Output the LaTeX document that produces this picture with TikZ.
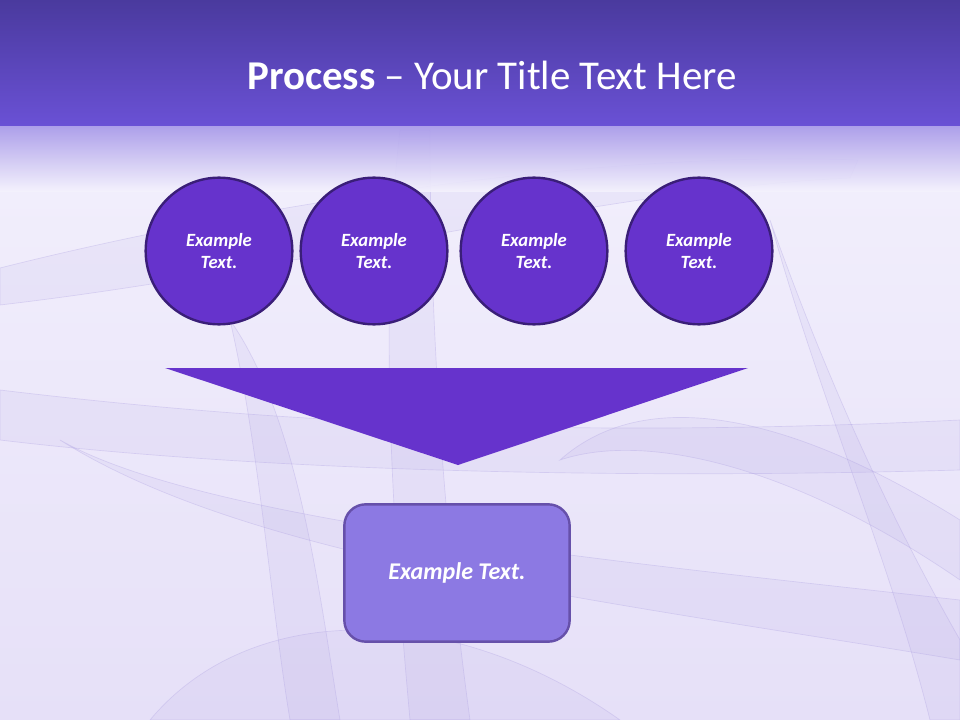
\documentclass[tikz,border=0pt]{standalone}
\usepackage{fontspec}
\setmainfont{Carlito}
\usetikzlibrary{positioning}
\definecolor{bandTop}{HTML}{4A3A9E}
\definecolor{bandBottom}{HTML}{6A51D5}
\definecolor{fadeTop}{HTML}{A596E8}
\definecolor{paleBack}{HTML}{F5F3FD}
\definecolor{lavender}{HTML}{E6E0F8}
\definecolor{ribbon}{HTML}{A89AE0}
\definecolor{stepFill}{HTML}{6633CC}
\definecolor{stepBorder}{HTML}{3A1E78}
\definecolor{resultFill}{HTML}{8C79E3}
\definecolor{resultBorder}{HTML}{6650AA}
\tikzstyle{stepCircle} = [circle, minimum size=110pt, inner sep=0pt, draw=stepBorder, line width=1.8pt, fill=stepFill, text=white, font=\fontsize{14}{17}\selectfont\bfseries\itshape, align=center]
\tikzstyle{result} = [rectangle, rounded corners=16pt, minimum width=169pt, minimum height=103pt, draw=resultBorder, line width=1.8pt, fill=resultFill, text=white, font=\fontsize{18}{22}\selectfont\bfseries\itshape]
\tikzstyle{ribbonBand} = [draw=ribbon, line width=0.5pt, draw opacity=0.3, fill=ribbon, fill opacity=0.1]

\begin{document}
\begin{tikzpicture}[x=0.75pt, y=-0.75pt]
	\useasboundingbox (0,0) rectangle (960,720);
	
	% background
	\shade [top color=paleBack, bottom color=lavender] (0,0) rectangle (960,720);
	\path [ribbonBand] (0,268) .. controls (250,205) and (600,150) .. (858,160) -- (850,178) .. controls (600,190) and (300,270) .. (0,305) -- cycle;
	\path [ribbonBand] (0,390) .. controls (250,420) and (550,440) .. (960,420) -- (960,470) .. controls (600,480) and (250,470) .. (0,440) -- cycle;
	\path [ribbonBand] (60,440) .. controls (200,520) and (600,560) .. (960,600) -- (960,660) .. controls (600,600) and (250,560) .. (60,440) -- cycle;
	\path [ribbonBand] (400,130) .. controls (380,300) and (390,500) .. (410,720) -- (470,720) .. controls (440,500) and (430,300) .. (430,130) -- cycle;
	\path [ribbonBand] (230,320) .. controls (300,420) and (320,600) .. (340,720) -- (290,720) .. controls (270,600) and (260,450) .. (230,320) -- cycle;
	\path [ribbonBand] (770,220) .. controls (820,400) and (890,560) .. (930,720) -- (960,720) -- (960,640) .. controls (880,500) and (820,360) .. (770,220) -- cycle;
	\path [ribbonBand] (560,460) .. controls (650,380) and (800,420) .. (960,520) -- (960,580) .. controls (800,470) and (650,430) .. (560,460) -- cycle;
	\path [ribbonBand] (150,720) .. controls (250,600) and (450,600) .. (620,720) -- cycle;
	\shade [top color=fadeTop, bottom color=paleBack, fill opacity=0.9] (0,125) rectangle (960,192);
	\shade [top color=bandTop, bottom color=bandBottom] (0,0) rectangle (960,126);
	
	\node (title) at (492,75) [text=white, font=\fontsize{30.7}{36}\selectfont] {\textbf{Process} -- Your Title Text Here};
	
	\node (stepA) at (219,251) [stepCircle] {Example\\Text.};
	\node (stepB) [stepCircle, right of=stepA, node distance=116.25pt] {Example\\Text.};
	\node (stepC) [stepCircle, right of=stepB, node distance=120pt] {Example\\Text.};
	\node (stepD) [stepCircle, right of=stepC, node distance=123.75pt] {Example\\Text.};
	
	\coordinate (funnelLeft) at (165,368);
	\coordinate (funnelRight) at (748,368);
	\coordinate (funnelTip) at (458,465);
	\fill [stepFill] (funnelLeft) -- (funnelRight) -- (funnelTip) -- cycle;
	
	\node (outcome) at (457,573) [result] {Example Text.};
\end{tikzpicture}
\end{document}
